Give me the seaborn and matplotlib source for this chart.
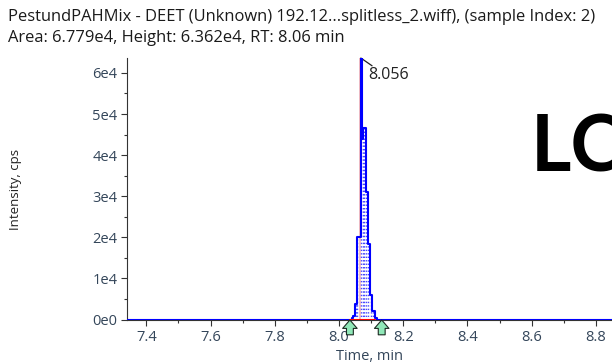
import matplotlib
matplotlib.use("Agg")
import matplotlib.pyplot as plt
import pandas as pd
import seaborn as sns

# chromatogram trace (time in min, intensity in cps)
times = [7.34, 8.040, 8.045, 8.050, 8.055, 8.068, 8.0715, 8.0757, 8.083, 8.089,
         8.0965, 8.104, 8.112, 8.118, 8.85]
intensity = [0, 300, 900, 3900, 20000, 63620, 44000, 46700, 31000, 18300,
             6000, 2000, 400, 0, 0]

peak_rt = 8.056
peak_label = "8.056"
apex_time = 8.068
peak_start = 8.034
peak_end = 8.133
baseline_end = 8.112
title_lines = [
    "PestundPAHMix - DEET (Unknown) 192.12...splitless_2.wiff), (sample Index: 2)",
    "Area: 6.779e4, Height: 6.362e4, RT: 8.06 min",
]
x_ticks = [7.4, 7.6, 7.8, 8.0, 8.2, 8.4, 8.6, 8.8]
x_minor = [7.5, 7.7, 7.9, 8.1, 8.3, 8.5, 8.7]
y_ticks = [0, 10000, 20000, 30000, 40000, 50000, 60000]
y_minor = [5000, 15000, 25000, 35000, 45000, 55000]
y_tick_labels = ["0e0", "1e4", "2e4", "3e4", "4e4", "5e4", "6e4"]

df = pd.DataFrame({"Time": times, "Intensity": intensity})

sns.set_style("white")
plt.rcParams["font.family"] = ["Open Sans", "DejaVu Sans"]

fig = plt.figure(figsize=(6.12, 3.63), dpi=100)
ax_left, ax_bottom, ax_top = 127, 320, 58
ax = fig.add_axes([ax_left / 612, (363 - ax_bottom) / 363, 1 - ax_left / 612,
                   (ax_bottom - ax_top) / 363])

tick_color = "#34465a"
height = max(intensity)

# integrated area: dotted verticals under the peak
peak_df = df[(df["Time"] > peak_start) & (df["Time"] < peak_end)]
ax.vlines(peak_df["Time"].iloc[:-1] + 0.002, 0, peak_df["Intensity"].iloc[:-1],
          colors="#4a4aff", linestyles=(0, (1, 1.5)), linewidth=1.0, zorder=2)
ax.vlines([apex_time - 0.0025], 0, [height], colors="#f5b5b5", linewidth=1.2, zorder=1)
ax.plot([peak_start, baseline_end], [0, 0], color="red", linewidth=1.5, zorder=4)

sns.lineplot(data=df, x="Time", y="Intensity", ax=ax, color="#0000ff", linewidth=1.5,
             drawstyle="steps-post", estimator=None, zorder=3)

# peak start/end markers
for xv in [peak_start, peak_end]:
    ax.annotate("", xy=(xv, -100), xytext=(xv, -3700),
                arrowprops=dict(arrowstyle="simple,head_width=0.95,head_length=0.55,tail_width=0.45",
                                mutation_scale=11, shrinkA=0, shrinkB=0,
                                fc="#90e8b8", ec="#1c2a22", lw=0.8),
                annotation_clip=False, zorder=5)

# apex label
ax.plot([apex_time, apex_time + 0.035], [height, height - 1900],
        color="#222222", linewidth=0.9, clip_on=False)
ax.text(apex_time + 0.022, height - 4100, peak_label, fontsize=11.5,
        color="#222222", va="center", ha="left")

ax.set_xticks(x_ticks)
ax.set_xticks(x_minor, minor=True)
ax.set_yticks(y_ticks)
ax.set_yticks(y_minor, minor=True)
ax.set_yticklabels(y_tick_labels)
ax.set_xlim(7.34, 8.85)
ax.set_ylim(-100, height)
ax.tick_params(axis="both", which="major", labelsize=10.5, labelcolor=tick_color,
               length=4, width=0.8, color="#333333", direction="out",
               bottom=True, left=True, pad=3)
ax.tick_params(axis="both", which="minor", length=2, width=0.8, color="#333333",
               bottom=True, left=True)
ax.set_xlabel("Time, min", fontsize=10.5, color=tick_color, labelpad=3)
ax.set_ylabel("Intensity, cps", fontsize=9.5, color="#222222")
ax.yaxis.set_label_coords((22 - ax_left) / (612 - ax_left), 0.5)

sns.despine(ax=ax, top=True, right=True)
for side in ["left", "bottom"]:
    ax.spines[side].set_color("#333333")
    ax.spines[side].set_linewidth(0.8)

fig.text(8 / 612, 1 - 17 / 363, title_lines[0], fontsize=11.9, color="#1a1a1a", va="center")
fig.text(8 / 612, 1 - 38 / 363, title_lines[1], fontsize=11.9, color="#1a1a1a", va="center")

fig.text(531 / 612, 1 - 149 / 363, "LC", fontsize=56, fontweight="bold",
         family=["Lato", "DejaVu Sans"], color="black", va="center", ha="left")

fig.savefig("out.png", dpi=100, facecolor="white")
